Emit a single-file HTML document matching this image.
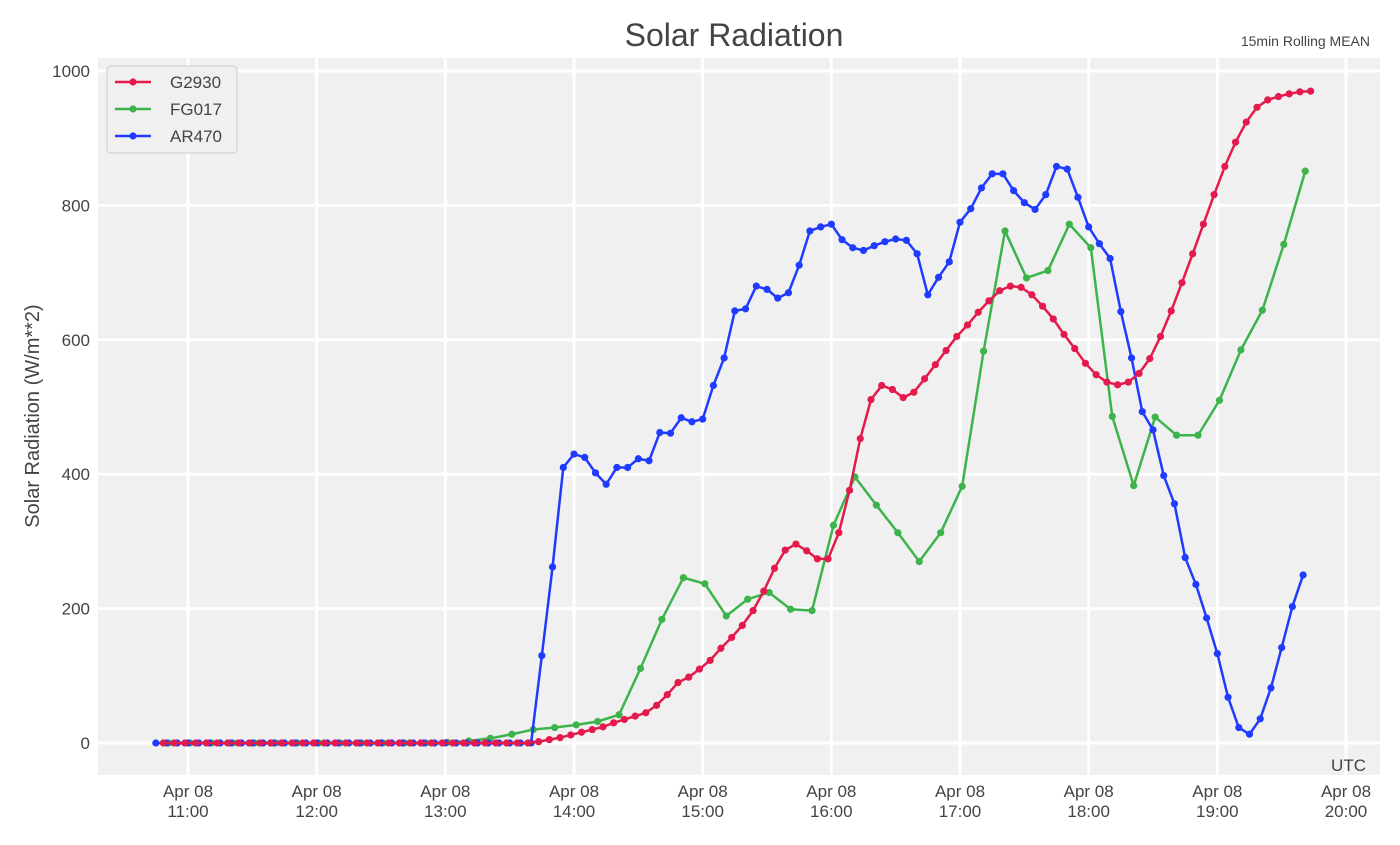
<!DOCTYPE html>
<html><head><meta charset="utf-8"><style>
body{margin:0;background:#fff;font-family:"Liberation Sans",sans-serif;}
svg text{font-family:"Liberation Sans",sans-serif;fill:#444;}
</style></head><body>
<svg id="chart" width="1400" height="840" xmlns="http://www.w3.org/2000/svg">
<rect x="98" y="58" width="1282" height="717" fill="#f0f0f0"/>
<g id="grid"></g>
<g id="series"></g>
<text x="734" y="46" font-size="32" text-anchor="middle">Solar Radiation</text>
<text x="1370" y="46" font-size="14" text-anchor="end">15min Rolling MEAN</text>
<text x="1366" y="771" font-size="17" text-anchor="end">UTC</text>
<text transform="translate(39,416) rotate(-90)" font-size="20" text-anchor="middle">Solar Radiation (W/m**2)</text>
<g id="legend"></g>
</svg>
<script>
const yTicks=[0,200,400,600,800,1000];
const xTickHours=[11,12,13,14,15,16,17,18,19,20];
const seriesNames=["G2930","FG017","AR470"];
const seriesColors=["#e31a4b","#3cb44b","#1f3bff"];
const g2930Start=-11.5, g2930Step=5;
const g2930Values=[0,0,0,0,0,0,0,0,0,0,0,0,0,0,0,0,0,0,0,0,0,0,0,0,0,0,0,0,0,0,0,0,0,0,0,
2,5,8,12,16,20,24,30,35,40,45,56,72,90,98,110,123,141,157,175,197,226,260,287,296,286,274,274,313,376,
453,511,532,526,514,522,542,563,584,605,622,641,658,673,680,678,667,650,631,608,587,565,548,537,533,537,550,572,605,643,
685,728,772,816,858,894,924,946,957,962,966,969,970];
const fg017Start=-9, fg017Step=10;
const fg017Values=[0,0,0,0,0,0,0,0,0,0,0,0,0,1,
3,7,13,20,23,27,32,42,111,184,246,237,189,214,224,199,197,324,396,354,
313,270,313,382,583,762,692,703,772,737,486,383,485,458,458,510,585,644,742,851];
const ar470Start=-15, ar470Step=5;
const ar470Values=[0,0,0,0,0,0,0,0,0,0,0,0,0,0,0,0,0,0,0,0,0,0,0,0,0,0,0,0,0,0,0,0,0,0,0,0,
130,262,410,430,425,402,385,410,410,423,420,462,461,484,478,482,532,573,643,646,
680,675,662,670,711,762,768,772,749,737,733,740,746,750,748,728,667,693,716,775,
795,826,847,847,822,804,794,816,858,854,812,768,743,721,642,573,493,466,398,356,
276,236,186,133,68,23,13,36,82,142,203,250];
const NS="http://www.w3.org/2000/svg";
function xScale(min){return 188+min*(1158/540);}
function yScale(v){return 743-v*0.672;}
function mk(tag,attrs,parent){const e=document.createElementNS(NS,tag);for(const k in attrs)e.setAttribute(k,attrs[k]);parent.appendChild(e);return e;}
const grid=document.getElementById('grid');
yTicks.forEach(v=>{
  const l=mk('line',{x1:98,x2:1380,y1:yScale(v),y2:yScale(v),stroke:'#fff','stroke-width':3},grid);
  
  
  const t=mk('text',{x:90,y:yScale(v)+6,'font-size':17,'text-anchor':'end'},grid);
  t.textContent=v;
  
  
});
xTickHours.forEach(h=>{
  const x=xScale((h-11)*60);
  const l=mk('line',{x1:x,x2:x,y1:58,y2:775,stroke:'#fff','stroke-width':3},grid);
  
  
  const t=mk('text',{x:x,y:797,'font-size':17,'text-anchor':'middle'},grid);
  t.textContent='Apr 08';
  
  
  const t2=mk('text',{x:x,y:817,'font-size':17,'text-anchor':'middle'},grid);
  t2.textContent=h+':00';
  
  
});
const sg=document.getElementById('series');
function drawSeries(vals,start,step,color,name){
  const g=mk('g',{},sg);
  
  
  const pts=vals.map((v,i)=>[xScale(start+i*step),yScale(v)]);
  const p=mk('polyline',{points:pts.map(q=>q.join(',')).join(' '),fill:'none',stroke:color,'stroke-width':2.5,'stroke-linejoin':'round'},g);
  
  
  pts.forEach(q=>{
    const c=mk('circle',{cx:q[0],cy:q[1],r:3.6,fill:color},g);
    
    
  });
}
drawSeries(fg017Values,fg017Start,fg017Step,seriesColors[1],seriesNames[1]);
drawSeries(ar470Values,ar470Start,ar470Step,seriesColors[2],seriesNames[2]);
drawSeries(g2930Values,g2930Start,g2930Step,seriesColors[0],seriesNames[0]);
const lg=document.getElementById('legend');
const box=mk('rect',{x:107,y:66,width:130,height:87,rx:4,fill:'#f0f0f0',stroke:'#ccc'},lg);


seriesNames.forEach((n,i)=>{
  const y=82+i*27;
  const g=mk('g',{},lg);
  
  
  mk('line',{x1:115,x2:151,y1:y,y2:y,stroke:seriesColors[i],'stroke-width':2.5},g);
  mk('circle',{cx:133,cy:y,r:3.6,fill:seriesColors[i]},g);
  const t=mk('text',{x:170,y:y+6,'font-size':17},g);
  t.textContent=n;
});
</script>
</body></html>
